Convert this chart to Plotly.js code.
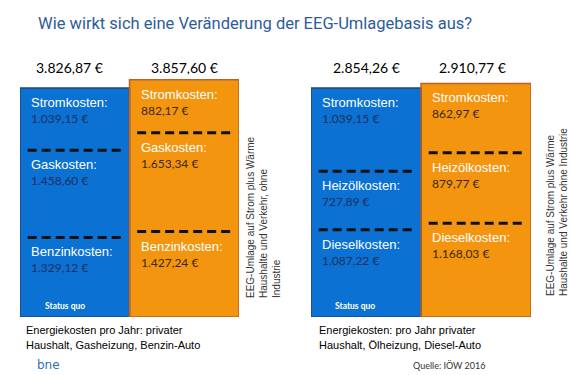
<!DOCTYPE html>
<html>
<head>
<meta charset="utf-8">
<script src="https://cdn.plot.ly/plotly-3.0.1.min.js"></script>
<style>html,body{margin:0;padding:0;background:#fff;}#chart{width:570px;height:375px;}</style>
</head>
<body>
<div id="chart"></div>
<script>
// ---- data ----
const bars = ['Status quo', 'EEG-Umlage auf Strom plus Wärme'];
// left group: Gasheizung, Benzin-Auto
const stromLeft = [1039.15, 882.17];
const gasLeft = [1458.60, 1653.34];
const benzinLeft = [1329.12, 1427.24];
const totalsLeft = [3826.87, 3857.60];
// right group: Ölheizung, Diesel-Auto
const stromRight = [1039.15, 862.97];
const heizoelRight = [727.89, 879.77];
const dieselRight = [1087.22, 1168.03];
const totalsRight = [2854.26, 2910.77];

const fillColors = ['#0B71D3', '#F4950F'];
const borderColors = ['#23467F', '#B9622A'];
const valueColors = ['#1B2F5E', '#3A2710'];

function fmt(v) {
  const parts = v.toFixed(2).split('.');
  const int = parts[0].replace(/\B(?=(\d{3})+(?!\d))/g, '.');
  return int + ',' + parts[1] + ' €';
}

const W = 570, H = 375, mT = 40, mB = 58;
const plotH = H - mT - mB;
const px = v => v / W;
const py = v => (H - mB - v) / plotH;

const traces = [];
const shapes = [];
const annotations = [];

function group(xa, ya, segs, names, totals, totShift) {
  // segs: bottom -> top
  segs.forEach((vals) => {
    traces.push({
      type: 'bar', x: bars, y: vals, xaxis: xa, yaxis: ya,
      marker: {color: fillColors, line: {width: 0}},
      hoverinfo: 'skip', showlegend: false
    });
  });
  const xr = xa;
  const yr = ya;
  for (let i = 0; i < bars.length; i++) {
    let cum = 0;
    const tops = segs.map(s => (cum += s[i]));
    const stackTop = tops[tops.length - 1];
    // outline
    shapes.push({type: 'rect', xref: xr, yref: yr, x0: i - 0.5, x1: i + 0.5, y0: 0, y1: stackTop,
      line: {color: borderColors[i], width: 1.5}, fillcolor: 'rgba(0,0,0,0)', layer: 'above'});
    // dashed separators
    for (let k = 0; k < tops.length - 1; k++) {
      shapes.push({type: 'line', xref: xr, yref: yr, x0: i - 0.43, x1: i + 0.42, y0: tops[k], y1: tops[k],
        line: {color: '#111', width: 3, dash: '9px,5px'}, layer: 'above'});
    }
    // segment labels
    segs.forEach((s, k) => {
      annotations.push({xref: xr, yref: yr, x: i - 0.5, y: tops[k], xanchor: 'left', yanchor: 'top',
        xshift: 9, yshift: -5, showarrow: false, text: names[k],
        font: {family: 'Liberation Sans, Arial', size: 13, color: '#ffffff'}});
      annotations.push({xref: xr, yref: yr, x: i - 0.5, y: tops[k], xanchor: 'left', yanchor: 'top',
        xshift: 9, yshift: -21, showarrow: false, text: fmt(s[i]),
        font: {family: 'Lato, Open Sans', size: 12, color: valueColors[i]}});
    });
    // total label
    annotations.push({xref: xr, yref: 'paper', x: i, y: py(67), xanchor: 'center', yanchor: 'middle',
      xshift: totShift[i], showarrow: false, text: fmt(totals[i]),
      font: {family: 'Lato, Open Sans', size: 14, color: '#000'}});
  }
}

group('x', 'y', [benzinLeft, gasLeft, stromLeft], ['Benzinkosten:', 'Gaskosten:', 'Stromkosten:'], totalsLeft, [-5, 0]);
group('x2', 'y2', [dieselRight, heizoelRight, stromRight], ['Dieselkosten:', 'Heizölkosten:', 'Stromkosten:'], totalsRight, [0, -4]);

const rotFont = {family: 'Liberation Sans, Arial', size: 10, color: '#333'};
annotations.push({xref: 'paper', yref: 'paper', x: px(263), y: py(300), xanchor: 'center', yanchor: 'bottom',
  textangle: -90, align: 'left', showarrow: false, font: rotFont,
  text: 'EEG-Umlage auf Strom plus Wärme<br>Haushalte und Verkehr, ohne<br>Industrie'});
annotations.push({xref: 'paper', yref: 'paper', x: px(557), y: py(298), xanchor: 'center', yanchor: 'bottom',
  textangle: -90, align: 'left', showarrow: false, font: rotFont,
  text: 'EEG-Umlage auf Strom plus Wärme<br>Haushalte und Verkehr ohne Industrie'});

const sqFont = {family: 'Lato, Open Sans', size: 8.5, color: '#fff'};
annotations.push({xref: 'paper', yref: 'paper', x: px(65), y: py(306), xanchor: 'center', yanchor: 'middle', showarrow: false, text: '<b>Status quo</b>', font: sqFont});
annotations.push({xref: 'paper', yref: 'paper', x: px(355), y: py(306), xanchor: 'center', yanchor: 'middle', showarrow: false, text: '<b>Status quo</b>', font: sqFont});

const capFont = {family: 'Liberation Sans, Arial', size: 11, color: '#000'};
[['Energiekosten pro Jahr: privater', 'Haushalt, Gasheizung, Benzin-Auto', 24],
 ['Energiekosten: pro Jahr privater', 'Haushalt, Ölheizung, Diesel-Auto', 317]].forEach(c => {
  annotations.push({xref: 'paper', yref: 'paper', x: px(c[2]), y: py(330), xanchor: 'left', yanchor: 'middle', showarrow: false, text: c[0], font: capFont});
  annotations.push({xref: 'paper', yref: 'paper', x: px(c[2]), y: py(345), xanchor: 'left', yanchor: 'middle', showarrow: false, text: c[1], font: capFont});
});

annotations.push({xref: 'paper', yref: 'paper', x: px(35), y: py(365), xanchor: 'left', yanchor: 'middle', showarrow: false, text: 'bne',
  font: {family: 'DejaVu Sans', size: 12, color: '#2F6FB5'}});
annotations.push({xref: 'paper', yref: 'paper', x: px(411), y: py(365), xanchor: 'left', yanchor: 'middle', showarrow: false, text: 'Quelle: IÖW 2016',
  font: {family: 'Lato, Open Sans', size: 9, color: '#333'}});

const topPx = 88; // pixel position of the status-quo bar tops
const R1 = totalsLeft[0] * plotH / (H - mB - topPx);
const R2 = totalsRight[0] * plotH / (H - mB - topPx);

const hiddenX = {type: 'category', showgrid: false, zeroline: false, showticklabels: false, showline: false, ticks: '', range: [-0.5, 1.5], fixedrange: true};
const hiddenY = {showgrid: false, zeroline: false, showticklabels: false, showline: false, ticks: '', fixedrange: true};

const layout = {
  width: W, height: H,
  margin: {l: 0, r: 0, t: mT, b: mB, pad: 0},
  paper_bgcolor: '#fff', plot_bgcolor: 'rgba(0,0,0,0)',
  barmode: 'stack', bargap: 0,
  showlegend: false,
  title: {text: 'Wie wirkt sich eine Veränderung der EEG-Umlagebasis aus?', x: px(38), xanchor: 'left', xref: 'paper',
    y: 1 - 23 / H, yanchor: 'middle', yref: 'container',
    font: {family: 'Roboto, DejaVu Sans', size: 16.5, color: '#2E5C9A'}},
  xaxis: Object.assign({domain: [px(20), px(239)], anchor: 'y'}, hiddenX),
  xaxis2: Object.assign({domain: [px(311), px(531)], anchor: 'y2'}, hiddenX),
  yaxis: Object.assign({range: [0, R1], anchor: 'x'}, hiddenY),
  yaxis2: Object.assign({range: [0, R2], anchor: 'x2'}, hiddenY),
  shapes: shapes,
  annotations: annotations
};

Plotly.newPlot('chart', traces, layout, {displayModeBar: false, staticPlot: true});
</script>
</body>
</html>
